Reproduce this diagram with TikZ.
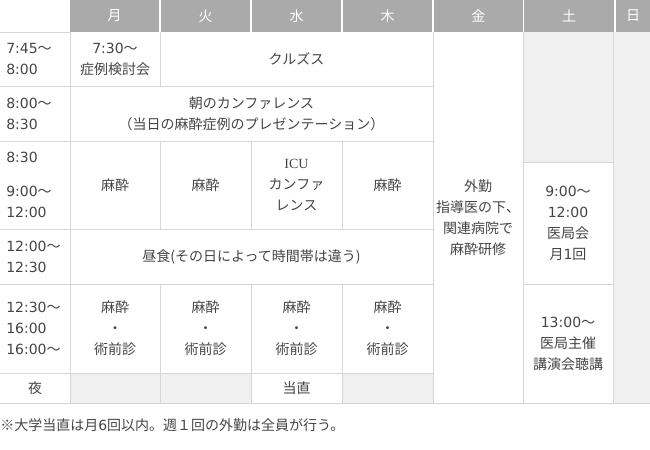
\documentclass[tikz,border=0pt]{standalone}
\usepackage{fontspec}
\setmainfont{Noto Sans CJK JP}
\newfontfamily\numfont{DejaVu Sans}
\newfontfamily\icufont{Liberation Serif}
\usepackage{xcolor}
\definecolor{gridgray}{RGB}{214,214,214}
\definecolor{cellgray}{RGB}{240,240,240}
\definecolor{headgray}{RGB}{170,170,170}
\definecolor{txtgray}{RGB}{68,68,68}

\begin{document}
\begin{tikzpicture}[x=0.75pt,y=0.75pt,yscale=-1,xscale=1,
    grid/.style={draw=gridgray, line width=0.75},
    cell/.style={inner sep=0.75pt, align=center, text=txtgray, font=\fontsize{10.5}{15.75}\selectfont},
    timecell/.style={cell, anchor=west, align=left},
    headcell/.style={cell, text=white}]
    \useasboundingbox (0,0) rectangle (650,450);

    %Shape: Rectangle (header)
    \fill [headgray] (70,0) rectangle (159,31.7) ;
    \fill [headgray] (161,0) rectangle (250,31.7) ;
    \fill [headgray] (252,0) rectangle (341,31.7) ;
    \fill [headgray] (343,0) rectangle (432,31.7) ;
    \fill [headgray] (434,0) rectangle (522.7,31.7) ;
    \fill [headgray] (524.3,0) rectangle (614,31.7) ;
    \fill [headgray] (615.7,0) rectangle (650,31.7) ;
    %Shape: Rectangle (grey cells)
    \fill [cellgray] (523,32) rectangle (613,162) ;
    \fill [cellgray] (613,32) rectangle (650,403) ;
    \fill [cellgray] (70,373) rectangle (160,403) ;
    \fill [cellgray] (160,373) rectangle (251,403) ;
    \fill [cellgray] (342,373) rectangle (433,403) ;

    %Straight Lines (rows)
    \draw [grid] (0,32) -- (70,32) ;
    \draw [grid] (0,86) -- (433,86) ;
    \draw [grid] (0,141) -- (433,141) ;
    \draw [grid] (0,229) -- (433,229) ;
    \draw [grid] (0,284) -- (433,284) ;
    \draw [grid] (0,373) -- (433,373) ;
    \draw [grid] (0,403) -- (650,403) ;
    \draw [grid] (523,162) -- (613,162) ;
    \draw [grid] (523,284) -- (613,284) ;
    %Straight Lines (columns)
    \draw [grid] (70,32) -- (70,403) ;
    \draw [grid] (160,32) -- (160,86) ;
    \draw [grid] (160,141) -- (160,229) ;
    \draw [grid] (160,284) -- (160,403) ;
    \draw [grid] (251,141) -- (251,229) ;
    \draw [grid] (251,284) -- (251,403) ;
    \draw [grid] (342,141) -- (342,229) ;
    \draw [grid] (342,284) -- (342,403) ;
    \draw [grid] (433,32) -- (433,403) ;
    \draw [grid] (523,32) -- (523,403) ;
    \draw [grid] (613,32) -- (613,403) ;

    % Text Node (header)
    \node (hmon) [headcell] at (114.5,16) {月};
    \node (htue) [headcell] at (205.5,16) {火};
    \node (hwed) [headcell] at (296.5,16) {水};
    \node (hthu) [headcell] at (387.5,16) {木};
    \node (hfri) [headcell] at (478.3,16) {金};
    \node (hsat) [headcell] at (569,16) {土};
    \node (hsun) [headcell] at (633,16) {日};

    % Text Node (time column)
    \node (time1) [timecell] at (5,59) {{\numfont 7:45}～\\{\numfont 8:00}};
    \node (time2) [timecell] at (5,113.5) {{\numfont 8:00}～\\{\numfont 8:30}};
    \node (time3) [timecell] at (5,185) {{\numfont 8:30}\\[9.75pt]{\numfont 9:00}～\\{\numfont 12:00}};
    \node (time4) [timecell] at (5,256.5) {{\numfont 12:00}～\\{\numfont 12:30}};
    \node (time5) [timecell] at (5,328.5) {{\numfont 12:30}～\\{\numfont 16:00}\\{\numfont 16:00}～};
    \node (night) [cell] at (35,388) {夜};

    % Text Node (rows)
    \node (case) [cell] at (115,59) {{\numfont 7:30}～\\症例検討会};
    \node (kurz) [cell] at (296.5,59) {クルズス};
    \node (conf) [cell] at (251.5,113.5) {朝のカンファレンス\\（当日の麻酔症例のプレゼンテーション）};
    \node (amon) [cell] at (115,185) {麻酔};
    \node (atue) [cell] at (205.5,185) {麻酔};
    \node (icu) [cell] at (296.5,185) {{\icufont ICU}\\カンファ\\レンス};
    \node (athu) [cell] at (387.5,185) {麻酔};
    \node (lunch) [cell] at (251.5,256.5) {昼食(その日によって時間帯は違う)};
    \node (pmon) [cell] at (115,328.5) {麻酔\\・\\術前診};
    \node (ptue) [cell] at (205.5,328.5) {麻酔\\・\\術前診};
    \node (pwed) [cell] at (296.5,328.5) {麻酔\\・\\術前診};
    \node (pthu) [cell] at (387.5,328.5) {麻酔\\・\\術前診};
    \node (duty) [cell] at (296.5,388) {当直};
    \node (gaikin) [cell] at (478,217.5) {外勤\\指導医の下、\\関連病院で\\麻酔研修};
    \node (ikyoku) [cell] at (568,223) {{\numfont 9:00}～\\{\numfont 12:00}\\医局会\\月{\numfont 1}回};
    \node (lecture) [cell] at (568,343.5) {{\numfont 13:00}～\\医局主催\\講演会聴講};

    % Text Node (note)
    \node (note) [cell, anchor=west, inner sep=0pt] at (0,425) {※大学当直は月{\numfont 6}回以内。週１回の外勤は全員が行う。};
\end{tikzpicture}
\end{document}
